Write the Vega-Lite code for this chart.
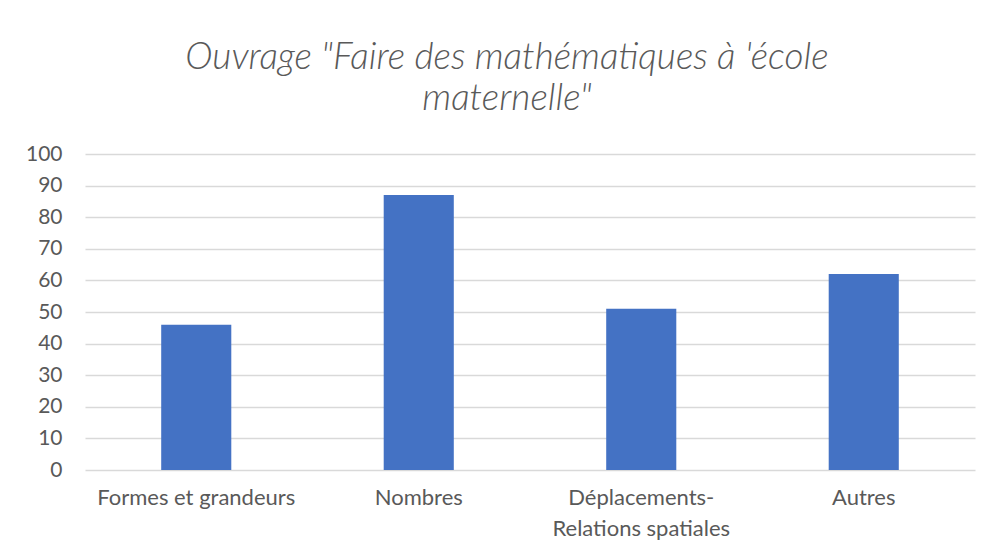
{
  "$schema": "https://vega.github.io/schema/vega-lite/v6.json",
  "width": 890,
  "height": 316,
  "autosize": {"type": "none"},
  "padding": {"left": 85, "top": 154, "right": 19, "bottom": 83},
  "background": "white",
  "title": {
    "text": ["Ouvrage \"Faire des mathématiques à 'école", "maternelle\""],
    "font": "Lato",
    "fontSize": 37,
    "fontWeight": 300,
    "fontStyle": "italic",
    "color": "#595959",
    "lineHeight": 41,
    "anchor": "middle",
    "dx": -23,
    "offset": 25
  },
  "data": {
    "values": [
      {"categorie": "Formes et grandeurs", "valeur": 46},
      {"categorie": "Nombres", "valeur": 87},
      {"categorie": "Déplacements-Relations spatiales", "valeur": 51},
      {"categorie": "Autres", "valeur": 62}
    ]
  },
  "mark": {"type": "bar", "color": "#4472C4"},
  "encoding": {
    "x": {
      "field": "categorie",
      "type": "nominal",
      "sort": null,
      "scale": {"paddingInner": 0.685, "paddingOuter": 0.3425},
      "axis": {
        "title": null,
        "labelAngle": 0,
        "labelFont": "Lato",
        "labelFontSize": 22,
        "labelColor": "#595959",
        "labelPadding": 17,
        "labelLineHeight": 31,
        "labelLimit": 400,
        "ticks": false,
        "domain": false,
        "labelExpr": "datum.label == 'Déplacements-Relations spatiales' ? ['Déplacements-', 'Relations spatiales'] : datum.label"
      }
    },
    "y": {
      "field": "valeur",
      "type": "quantitative",
      "scale": {"domain": [0, 100]},
      "axis": {
        "title": null,
        "values": [0, 10, 20, 30, 40, 50, 60, 70, 80, 90, 100],
        "labelFont": "Lato",
        "labelFontSize": 21,
        "labelColor": "#595959",
        "labelPadding": 23,
        "ticks": false,
        "domain": false,
        "gridColor": "#d9d9d9",
        "gridWidth": 1.3
      }
    }
  },
  "config": {"view": {"stroke": null}}
}
